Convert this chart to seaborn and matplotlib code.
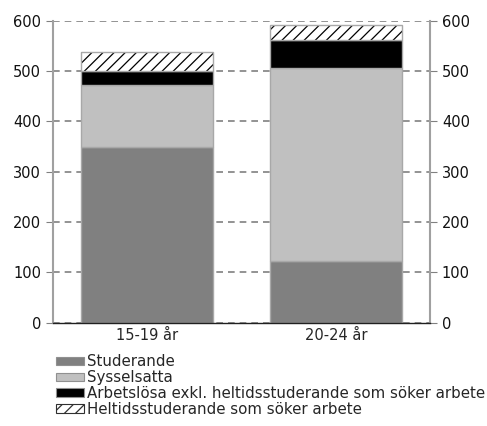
import pandas as pd
import matplotlib
matplotlib.use('Agg')
import matplotlib.pyplot as plt
import seaborn as sns
import numpy as np

# data
kategorier = ['15-19 år', '20-24 år']
studerande = [350, 123]
sysselsatta = [123, 383]
arbetslosa = [28, 56]
heltid = [37, 29]

serier = ['Studerande', 'Sysselsatta',
          'Arbetslösa exkl. heltidsstuderande som söker arbete',
          'Heltidsstuderande som söker arbete']
farger = ['#808080', '#c0c0c0', '#000000', '#ffffff']
hatchar = [None, None, None, '///']

sns.set_style('white')
plt.rcParams['font.family'] = ['DejaVu Sans']
plt.rcParams['hatch.linewidth'] = 0.9

fig = plt.figure(figsize=(4.87, 4.26), dpi=100)
ax = fig.add_axes([0.109, 0.2425, 0.774, 0.7085])

dt = pd.DataFrame({'kat': kategorier})
bottom = np.zeros(len(kategorier))
handles = []
for namn, vals, f, h in zip(serier, [studerande, sysselsatta, arbetslosa, heltid], farger, hatchar):
    dt['v'] = vals
    if h is None:
        sns.barplot(data=dt, x='kat', y='v', color=f, saturation=1, width=0.7,
                    bottom=bottom, edgecolor='#a8a8a8', linewidth=1, ax=ax)
    else:
        # hatch in black, then a grey outline on top
        sns.barplot(data=dt, x='kat', y='v', color=f, saturation=1, width=0.7,
                    bottom=bottom, edgecolor='black', linewidth=0, hatch=h, ax=ax)
        sns.barplot(data=dt, x='kat', y='v', color=f, saturation=1, width=0.7,
                    bottom=bottom, facecolor='none', edgecolor='#a8a8a8', linewidth=1, ax=ax)
    handles.append(plt.Rectangle((0, 0), 1, 1, facecolor=f,
                                 edgecolor='#909090' if h is None else '#303030',
                                 hatch=h, linewidth=0.8, label=namn))
    bottom = bottom + np.array(vals)

ax.set_ylim(0, 600)
ax.set_xlim(-0.5, 1.5)
ax.set_yticks(range(0, 601, 100))
ax.set_xlabel('')
ax.set_ylabel('')

ax.yaxis.grid(True, linestyle=(0, (4, 3)), color='#808080', linewidth=1.2)
ax.set_axisbelow(True)

# category ticks between the groups
ax.set_xticks([-0.5, 0.5, 1.5], minor=False)
ax.set_xticklabels([])
ax.set_xticks([0, 1], minor=True)
ax.set_xticklabels(kategorier, minor=True)
ax.tick_params(axis='x', which='minor', length=0, labelsize=10.5, pad=4)
ax.tick_params(axis='x', which='major', length=5, direction='out', color='#404040')
ax.tick_params(axis='y', which='both', left=True, right=True, labelleft=True, labelright=True,
               length=5, direction='out', color='#808080', labelsize=10.5, labelcolor='#111111')

for s in ['left', 'right']:
    ax.spines[s].set_color('#a0a0a0')
    ax.spines[s].set_linewidth(1.5)
ax.spines['top'].set_visible(False)
ax.spines['bottom'].set_color('#202020')
ax.spines['bottom'].set_linewidth(1)

fig.legend(handles=handles, loc='upper left', bbox_to_anchor=(0.115, 0.168),
           frameon=False, fontsize=10.8, handlelength=1.85, handleheight=0.5,
           handletextpad=0.2, labelspacing=0.05, borderaxespad=0, borderpad=0)

fig.savefig('out.png', dpi=100)
